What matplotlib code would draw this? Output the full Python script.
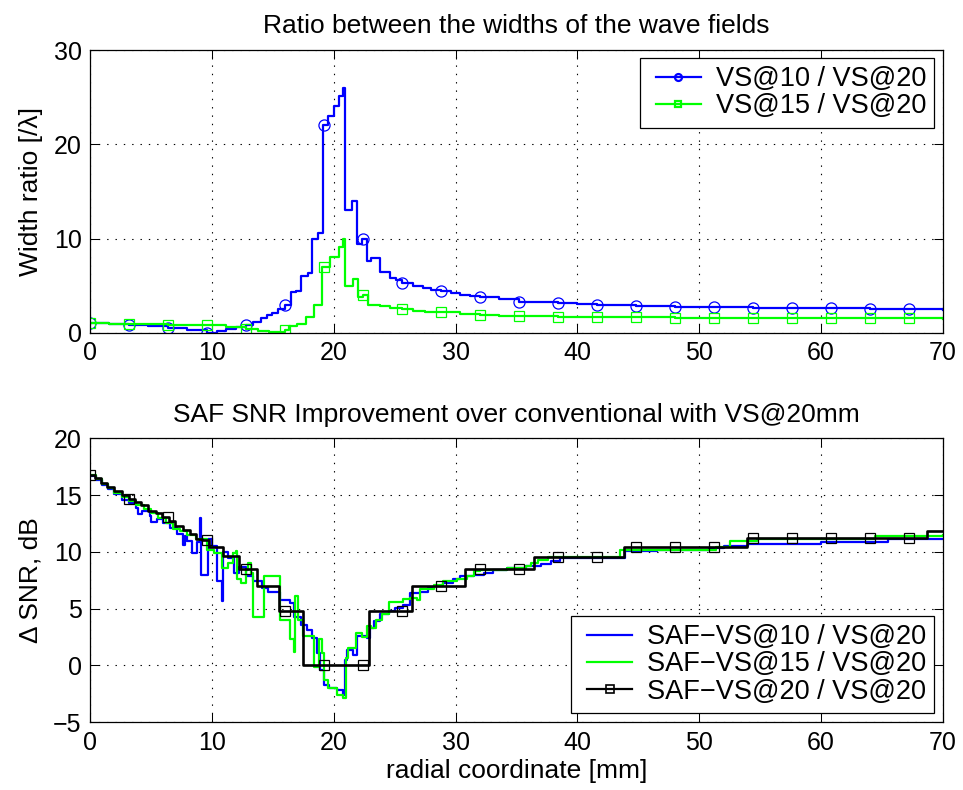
import numpy as np
import matplotlib
matplotlib.use("Agg")
import matplotlib.pyplot as plt
from matplotlib.lines import Line2D
from matplotlib.legend_handler import HandlerLine2D

plt.rcParams['font.family'] = ['Liberation Sans', 'DejaVu Sans']
plt.rcParams['lines.scale_dashes'] = False

# ---------------- data: top panel (width ratio) ----------------
TOP_BLUE_X = [0, 1.6, 3.2, 4.8, 6.4, 8.0, 9.6, 10.4, 11.2, 12.0, 12.8, 13.4, 14.0, 14.5,
              14.9, 15.4, 16.0, 16.5, 16.9, 17.3, 17.9, 18.2, 18.7, 19.1, 19.5, 20.0, 20.4,
              20.8, 20.95, 21.5, 21.9, 22.3, 22.7, 23.1, 23.8, 24.6, 25.1, 25.6, 26.5, 27.3,
              28.0, 28.8, 29.6, 30.4, 31.2, 32.0, 33.6, 35.2, 36.8, 38.4, 40.0, 41.6, 43.2,
              44.8, 46.4, 48.0, 51.2, 54.4, 57.6, 60.8, 64.0, 67.2, 70]
TOP_BLUE_Y = [1.05, 0.95, 0.9, 0.7, 0.55, 0.3, 0.05, 0.2, 0.4, 0.6, 0.9, 1.2, 1.6, 1.9,
              2.1, 2.5, 3.0, 4.3, 4.5, 6.0, 6.4, 10.0, 10.6, 22.0, 23.0, 24.1, 25.1,
              26.0, 13.0, 14.0, 9.4, 10.0, 7.6, 7.9, 6.5, 5.8, 5.6, 5.3, 5.0, 4.8,
              4.6, 4.5, 4.2, 4.0, 3.9, 3.8, 3.6, 3.3, 3.25, 3.2, 3.1, 3.0, 2.95,
              2.9, 2.85, 2.8, 2.75, 2.7, 2.65, 2.6, 2.55, 2.5, 2.45]

TOP_GREEN_X = [0, 1.6, 3.2, 4.8, 6.4, 8.0, 9.6, 11.2, 12.8, 13.8, 14.7, 16.0, 16.3, 17.0,
               17.7, 18.4, 19.05, 19.7, 20.4, 20.8, 20.95, 21.6, 22.0, 22.4, 22.8, 23.8,
               24.6, 25.6, 26.5, 27.5, 28.8, 30.4, 32.0, 33.6, 35.2, 38.4, 41.6, 44.8,
               48.0, 54.4, 60.8, 67.2, 70]
TOP_GREEN_Y = [1.05, 1.0, 0.95, 0.92, 0.9, 0.85, 0.8, 0.6, 0.4, 0.25, 0.1, 0.35, 0.7, 1.0,
               1.7, 3.0, 7.0, 8.1, 9.1, 10.0, 5.0, 5.7, 3.8, 4.0, 3.0, 2.9,
               2.7, 2.5, 2.35, 2.25, 2.2, 2.0, 1.9, 1.8, 1.75, 1.7, 1.65, 1.65,
               1.6, 1.58, 1.56, 1.55, 1.5]

# ---------------- data: bottom panel (SNR improvement) ----------------
BOT_BLUE_X = [0, 0.5, 1.0, 1.5, 2.0, 2.6, 3.2, 3.8, 3.95, 4.3, 4.9, 5.0, 5.5, 6.0,
              6.6, 7.1, 7.6, 7.8, 8.0, 8.4, 8.75, 9.05, 9.15, 9.65, 10.0, 10.4, 10.85,
              10.95, 11.3, 11.8, 12.2, 12.8, 13.4, 14.1, 14.6, 15.6, 16.4, 16.7, 17.3,
              17.8, 18.2, 18.6, 18.9, 19.2, 19.6, 20.3, 20.8, 20.95, 21.1, 21.6, 21.9,
              22.7, 23.0, 23.3, 23.8, 24.5, 25.0, 25.7, 26.3, 27.1, 27.7, 28.2, 29.0,
              29.8, 30.4, 31.5, 32.3, 33.1, 34.2, 35.8, 37.0, 37.8, 38.6, 43.9, 46.5,
              50.8, 52.0, 54.0, 60.0, 65.5, 69.4, 70]
BOT_BLUE_Y = [16.7, 16.3, 15.9, 15.5, 15.1, 14.6, 14.3, 13.9, 13.3, 13.6, 13.2, 12.6, 12.9, 12.5,
              12.1, 11.6, 10.6, 11.4, 11.0, 9.9, 10.9, 13.0, 8.0, 11.1, 10.5, 7.4, 5.65,
              10.0, 9.5, 8.1, 8.7, 7.85, 7.4, 6.8, 6.5, 5.8, 5.5, 4.3, 3.6,
              3.1, 2.4, 1.1, -0.4, -1.7, -2.0, -2.15, -2.6, 0.5, 1.4, 0.9, 2.6,
              2.4, 3.3, 3.9, 4.5, 4.8, 5.1, 5.35, 6.4, 6.5, 6.8, 7.0, 7.3,
              7.6, 7.85, 8.0, 8.15, 8.45, 8.6, 8.75, 8.9, 9.2, 9.5, 10.05, 10.15,
              10.35, 10.55, 10.7, 10.9, 11.1, 11.15, 11.1]

BOT_GREEN_X = [0, 0.5, 1.0, 1.5, 2.0, 2.6, 3.2, 3.8, 4.4, 5.0, 5.6, 6.2, 6.8, 7.4,
               8.0, 8.7, 9.6, 10.2, 10.85, 11.3, 11.7, 12.0, 12.1, 12.4, 12.8, 13.0,
               13.25, 13.4, 14.3, 15.6, 16.4, 16.7, 16.8, 17.1, 17.5, 18.4, 18.8, 19.0,
               19.2, 19.5, 20.3, 20.8, 21.0, 21.2, 21.8, 22.3, 22.7, 23.1, 23.5, 24.0,
               24.5, 25.7, 26.3, 26.8, 27.1, 28.2, 29.0, 30.1, 30.9, 31.5, 32.0, 34.2,
               35.8, 36.2, 36.8, 37.6, 43.5, 51.4, 52.5, 54.7, 64.4, 70]
BOT_GREEN_Y = [16.8, 16.4, 16.0, 15.6, 15.2, 14.8, 14.5, 14.1, 13.8, 13.4, 13.0, 12.5, 12.0, 11.8,
               11.5, 11.1, 10.2, 9.9, 8.6, 9.0, 9.9, 10.05, 7.6, 7.3, 8.4, 9.0,
               8.1, 4.3, 7.85, 4.0, 2.3, 1.2, 6.1, 4.0, 2.6, -0.1, 2.3, 1.1,
               -1.3, -2.0, -2.6, -2.9, 0.65, 1.5, 2.85, 2.55, 3.45, 3.3, 4.0, 4.5,
               5.55, 5.85, 5.95, 5.8, 6.7, 7.1, 7.4, 7.6, 7.85, 8.3, 8.45, 8.6,
               8.75, 9.0, 9.3, 9.55, 10.2, 10.45, 10.95, 11.1, 11.4, 11.5]

BOT_BLACK_X = [0, 0.45, 0.9, 1.4, 2.0, 2.6, 3.2, 3.7, 4.2, 4.8, 5.4, 5.9, 6.5, 7.0, 7.6,
               8.2, 8.7, 9.2, 9.75, 10.9, 12.2, 13.7, 15.5, 17.5, 22.9, 26.4, 30.8,
               36.4, 43.8, 53.9, 68.7, 70]
BOT_BLACK_Y = [16.8, 16.5, 16.1, 15.7, 15.35, 15.0, 14.7, 14.35, 14.1, 13.6, 13.4, 13.1, 12.7, 12.3, 11.9,
               11.6, 11.15, 11.05, 10.4, 9.6, 8.5, 7.0, 4.8, 0.0, 4.8, 7.0, 8.5,
               9.56, 10.44, 11.18, 11.8, 11.8]

# marker positions (every 16th sample)
MARK_X = [0, 3.2, 6.4, 9.6, 12.8, 16.0, 19.2, 22.4, 25.6, 28.8, 32.0, 35.2, 38.4,
          41.6, 44.8, 48.0, 51.2, 54.4, 57.6, 60.8, 64.0, 67.2]

TOP_LABELS = ['VS@10 / VS@20', 'VS@15 / VS@20']
BOT_LABELS = ['SAF\u2212VS@10 / VS@20', 'SAF\u2212VS@15 / VS@20', 'SAF\u2212VS@20 / VS@20']


def step_at(xs, ys, xq):
    xs = np.asarray(xs, float)
    ys = np.asarray(ys, float)
    idx = np.searchsorted(xs, np.asarray(xq, float), side='right') - 1
    idx = np.clip(idx, 0, len(ys) - 1)
    return ys[idx]


BLUE = (0, 0, 1)
GREEN = (0, 1, 0)
FS_TICK = 18
FS = 19
FS_LEG = 19.5
LW = 1.6

fig = plt.figure(figsize=(9.63, 7.90), dpi=100)
ax1 = fig.add_axes([90 / 963, 1 - 333 / 790, 853 / 963, 283 / 790])
ax2 = fig.add_axes([90 / 963, 1 - 722.3 / 790, 853 / 963, 284 / 790])


def style(ax):
    ax.set_xlim(0, 70)
    ax.set_xticks([0, 10, 20, 30, 40, 50, 60, 70])
    ax.tick_params(direction='in', length=6.5, width=0.75, top=True, right=True,
                   labelsize=FS_TICK, pad=6)
    for s in ax.spines.values():
        s.set_linewidth(0.9)
    ax.grid(True, linestyle=(0, (1, 5)), color='k', linewidth=0.8)
    ax.set_axisbelow(True)


def make_legend(ax, handles, labels, loc, anchor):
    hm = {h: HandlerLine2D(xpad=0.3) for h in handles}
    leg = ax.legend(handles, labels, loc=loc, bbox_to_anchor=anchor,
                    borderaxespad=0, fontsize=FS_LEG, frameon=True, fancybox=False,
                    edgecolor='k', framealpha=1, handlelength=1.95, handletextpad=0.55,
                    labelspacing=0.05, borderpad=0.3, handler_map=hm)
    leg.get_frame().set_linewidth(0.9)
    return leg


# top panel
mx = np.asarray(MARK_X)
ax1.plot(TOP_BLUE_X, TOP_BLUE_Y, drawstyle='steps-post', color=BLUE, lw=LW)
ax1.plot(mx, step_at(TOP_BLUE_X, TOP_BLUE_Y, mx), 'o', ms=8, mfc='none', mec=BLUE, mew=0.9)
ax1.plot(TOP_GREEN_X, TOP_GREEN_Y, drawstyle='steps-post', color=GREEN, lw=LW)
ax1.plot(mx, step_at(TOP_GREEN_X, TOP_GREEN_Y, mx), 's', ms=7, mfc='none', mec=GREEN, mew=0.9)
style(ax1)
ax1.set_ylim(0, 30)
ax1.set_yticks([0, 10, 20, 30])
ax1.set_title('Ratio between the widths of the wave fields', fontsize=FS, pad=12)
ax1.set_ylabel('Width ratio [/\u03bb]', fontsize=FS, labelpad=8)
h1 = [Line2D([], [], color=BLUE, lw=LW, marker='o', ms=5, mfc='none', mew=1.6),
      Line2D([], [], color=GREEN, lw=LW, marker='s', ms=4.5, mfc='none', mew=1.6)]
make_legend(ax1, h1, TOP_LABELS, 'upper right', (0.9895, 0.972))

# bottom panel
ax2.plot(BOT_BLUE_X, BOT_BLUE_Y, drawstyle='steps-post', color=BLUE, lw=LW)
ax2.plot(BOT_GREEN_X, BOT_GREEN_Y, drawstyle='steps-post', color=GREEN, lw=LW)
ax2.plot(BOT_BLACK_X, BOT_BLACK_Y, drawstyle='steps-post', color='k', lw=1.9)
ax2.plot(mx, step_at(BOT_BLACK_X, BOT_BLACK_Y, mx), 's', ms=7, mfc='none', mec='k', mew=0.9)
style(ax2)
ax2.set_ylim(-5, 20)
ax2.set_yticks([-5, 0, 5, 10, 15, 20])
ax2.set_title('SAF SNR Improvement over conventional with VS@20mm', fontsize=FS, pad=12)
ax2.set_ylabel('\u0394 SNR, dB', fontsize=FS, labelpad=8)
ax2.set_xlabel('radial coordinate [mm]', fontsize=FS, labelpad=3)
h2 = [Line2D([], [], color=BLUE, lw=LW),
      Line2D([], [], color=GREEN, lw=LW),
      Line2D([], [], color='k', lw=LW, marker='s', ms=6, mfc='none', mew=1.2)]
make_legend(ax2, h2, BOT_LABELS, 'lower right', (0.9895, 0.033))

fig.savefig('out.png', dpi=100)
